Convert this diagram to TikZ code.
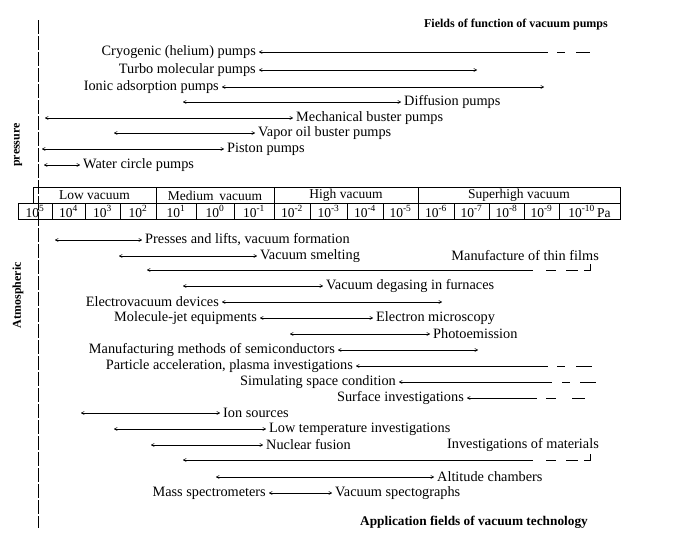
\documentclass[tikz,border=0pt]{standalone}
\usepackage{fontspec}
\setmainfont{Liberation Serif}
\usetikzlibrary{arrows.meta}
\begin{document}
\begin{tikzpicture}[x=1pt,y=-1pt,
  lbl/.style={font=\fontsize{14.3}{15}\selectfont,inner sep=3pt},
  ttl/.style={font=\fontsize{12}{13}\selectfont\bfseries,inner sep=0pt},
  rng/.style={line width=0.6pt,{To[length=3.5pt,width=3.5pt]}-{To[length=3.5pt,width=3.5pt]}},
  lrng/.style={line width=0.6pt,{To[length=3.5pt,width=3.5pt]}-},
  dsh/.style={line width=0.6pt},
  cl/.style={font=\fontsize{13.5}{14}\selectfont,inner sep=0pt}]
\useasboundingbox (0,0) rectangle (674,541);
% axis
\draw[line width=0.6pt,dash pattern=on 14pt off 2pt] (38,20) -- (38,528);
\node[ttl,rotate=90] (p) at (18,145) {pressure};
\node[ttl,rotate=90] (atm) at (18,295) {Atmospheric};
\node[ttl,anchor=east] (t1) at (608,25) {Fields of function of vacuum pumps};
\node[ttl,anchor=east,font=\fontsize{13.3}{14}\selectfont\bfseries] (t2) at (588,522) {Application fields of vacuum technology};
% table
\draw[line width=0.6pt] (33,187) rectangle (620,203);
\draw[line width=0.6pt] (18,203) rectangle (620,219);
\foreach \x in {156,274,418} \draw[line width=0.6pt] (\x,187) -- (\x,203);
\foreach \x in {52,85,120,156,196,234,274,310,347,383,418,454,489,524,559} \draw[line width=0.6pt] (\x,203) -- (\x,219);
\node[cl] (v1) at (94.5,195.5) {Low vacuum};
\node[cl] (v2) at (215,195.5) {Medium\, vacuum};
\node[cl] (v3) at (346,195.5) {High vacuum};
\node[cl] (v4) at (519,195.5) {Superhigh vacuum};
\newcommand{\pw}[1]{10\textsuperscript{#1}}
\foreach \a/\b/\e in {18/52/5,52/85/4,85/120/3,120/156/2,156/196/1,196/234/0,234/274/-1,274/310/-2,310/347/-3,347/383/-4,383/418/-5,418/454/-6,454/489/-7,489/524/-8,524/559/-9}
  \node[cl] at ({(\a+\b)/2},211.5) {\pw{\e}};
\node[cl] (pa) at (589.5,211.5) {\pw{-10}\,Pa};
% pumps
\newcommand{\LR}[5]{% y, x1, x2, left text, right text
  \draw[rng] (#2,#1) coordinate (a) -- (#3,#1) coordinate (b);
  \node[lbl,anchor=east] at (a) {#4};
  \node[lbl,anchor=west] at (b) {#5};}
\newcommand{\LD}[8]{% y, x1, x2, d1a,d1b,d2a,d2b, left text
  \draw[lrng] (#2,#1) coordinate (a) -- (#3,#1);
  \draw[dsh] (#4,#1) -- (#5,#1) (#6,#1) -- (#7,#1);
  \node[lbl,anchor=east] at (a) {#8};}
\LD{52}{259}{548}{557}{565}{576}{590}{Cryogenic (helium) pumps}
\LR{70}{259}{477}{Turbo molecular pumps}{}
\LR{87}{222}{544}{Ionic adsorption pumps}{}
\LR{102}{183}{401}{}{Diffusion pumps}
\LR{118}{45}{293}{}{Mechanical buster pumps}
\LR{133}{114}{255}{}{Vapor oil buster pumps}
\LR{149}{42}{224}{}{Piston pumps}
\LR{165}{44}{80}{}{Water circle pumps}
% applications
\LR{240}{55}{142}{}{Presses and lifts, vacuum formation}
\LR{256}{119}{257}{}{Vacuum smelting}
\node[lbl,anchor=east] (tf) at (602,256) {Manufacture of thin films};
\LD{270}{147}{533}{546}{556}{566}{578}{}
\draw[line width=0.6pt] (584,270) -- (590,270) -- (590,264);
\LR{286}{183}{323}{}{Vacuum degasing in furnaces}
\LR{302}{222}{442}{Electrovacuum devices}{}
\LR{318}{260}{373}{Molecule-jet equipments}{Electron microscopy}
\LR{334}{290}{430}{}{Photoemission}
\LR{350}{338}{478}{Manufacturing methods of semiconductors}{}
\LD{366}{356}{548}{557}{565}{576}{592}{Particle acceleration, plasma investigations}
\LD{382}{399}{552}{562}{570}{580}{596}{Simulating space condition}
\LD{398}{467}{537}{546}{556}{572}{585}{Surface investigations}
\LR{413}{81}{220}{}{Ion sources}
\LR{429}{114}{266}{}{Low temperature investigations}
\LR{445}{151}{263}{}{Nuclear fusion}
\node[lbl,anchor=east] (im) at (602,445) {Investigations of materials};
\LD{460}{183}{533}{546}{556}{566}{578}{}
\draw[line width=0.6pt] (584,460) -- (590,460) -- (590,454);
\LR{477}{216}{434}{}{Altitude chambers}
\LR{493}{269}{332}{Mass spectrometers}{Vacuum spectographs}
\end{tikzpicture}
\end{document}
